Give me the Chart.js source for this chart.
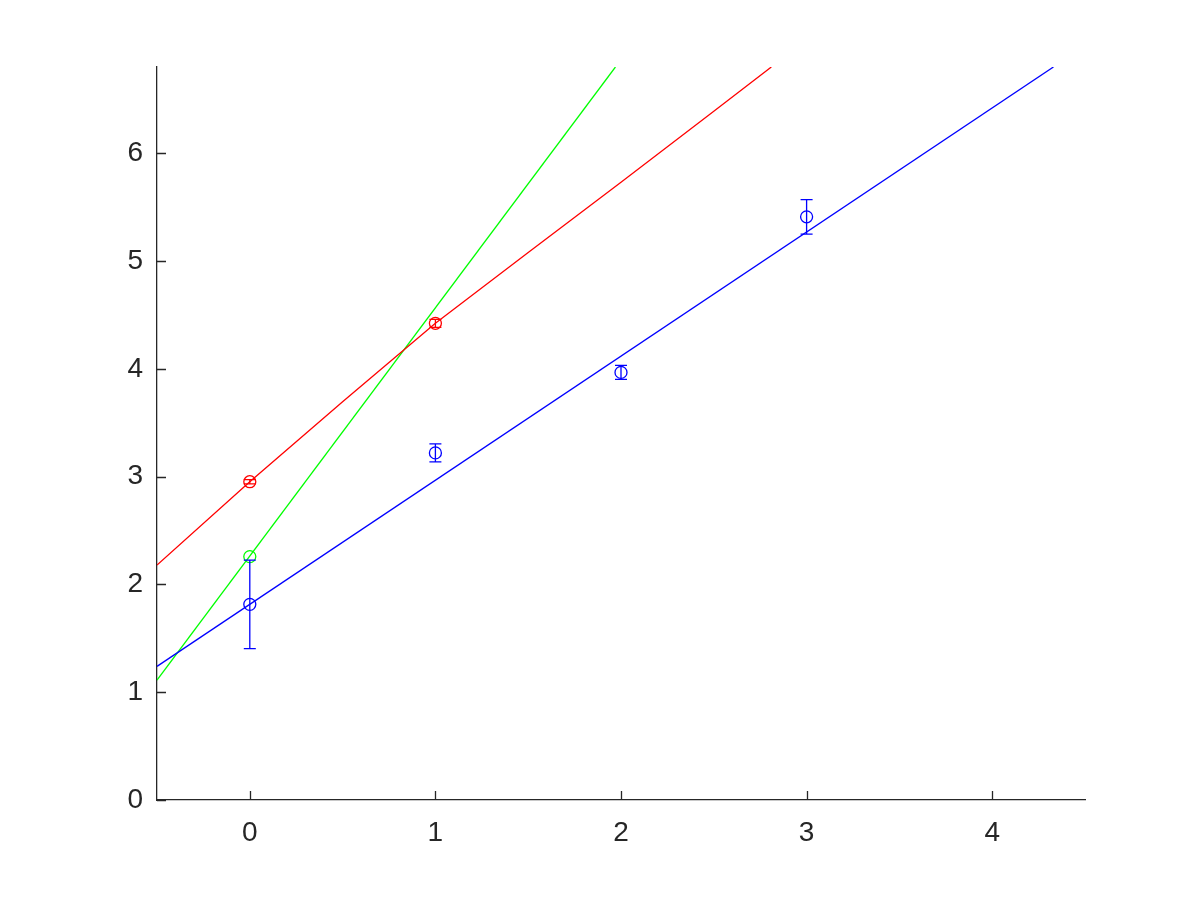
<!DOCTYPE html>
<html>
<head>
<meta charset="utf-8">
<script src="https://cdn.jsdelivr.net/npm/chart.js@4.4.1/dist/chart.umd.min.js"></script>
<style>
  html, body { margin: 0; padding: 0; background: #ffffff; }
  #wrap { width: 1200px; height: 900px; }
</style>
</head>
<body>
<div id="wrap"><canvas id="c" width="1200" height="900"></canvas></div>
<script>
// ---- data ----
const xTicks = [0, 1, 2, 3, 4];
const yTicks = [0, 1, 2, 3, 4, 5, 6];
const xRange = [-0.5, 4.5];
const yRange = [0, 6.8];

const blueX = [0, 1, 2, 3];
const blueY = [1.815, 3.22, 3.967, 5.41];
const blueErr = [0.41, 0.083, 0.065, 0.16];

const redX = [0, 1];
const redY = [2.953, 4.422];
const redErr = [0.02, 0.037];

const greenX = [0];
const greenY = [2.258];
const greenErr = [0];

const blueLineX = [-0.5, 4.33];
const blueLineY = [1.24, 6.8];
const greenLineX = [-0.5, 1.97];
const greenLineY = [1.112, 6.8];
const redLineX = [-0.5, 0, 0.5, 1, 1.5, 2, 2.5, 2.81];
const redLineY = [2.18, 2.953, 3.695, 4.422, 5.08, 5.73, 6.39, 6.8];

const BLUE = '#0000ff', RED = '#ff0000', GREEN = '#00ff00', AXIS = '#262626';

const zip = (xs, ys) => xs.map((x, i) => ({ x: x, y: ys[i] }));

function lineDs(xs, ys, color) {
  return { data: zip(xs, ys), showLine: true, borderColor: color, borderWidth: 1.3,
           pointRadius: 0, pointHoverRadius: 0, tension: 0, fill: false };
}
function pointDs(xs, ys, errs, color) {
  return { data: zip(xs, ys), errs: errs, showLine: false, borderColor: color,
           pointBorderColor: color, pointBackgroundColor: 'rgba(0,0,0,0)',
           pointRadius: 6, pointBorderWidth: 1.3, pointHoverRadius: 6 };
}

const errorBarPlugin = {
  id: 'errbars',
  afterDatasetsDraw(chart) {
    const ctx = chart.ctx, xs = chart.scales.x, ys = chart.scales.y;
    ctx.save();
    chart.data.datasets.forEach(ds => {
      if (!ds.errs) return;
      ctx.strokeStyle = ds.borderColor;
      ctx.lineWidth = 1.3;
      ds.data.forEach((p, i) => {
        const e = ds.errs[i];
        if (!e) return;
        const px = xs.getPixelForValue(p.x);
        const top = ys.getPixelForValue(p.y + e);
        const bot = ys.getPixelForValue(p.y - e);
        const cap = 6;
        ctx.beginPath();
        ctx.moveTo(px, top); ctx.lineTo(px, bot);
        ctx.moveTo(px - cap, top); ctx.lineTo(px + cap, top);
        ctx.moveTo(px - cap, bot); ctx.lineTo(px + cap, bot);
        ctx.stroke();
      });
    });
    ctx.restore();
  }
};

const inwardTicksPlugin = {
  id: 'inticks',
  afterDraw(chart) {
    const ctx = chart.ctx, xs = chart.scales.x, ys = chart.scales.y, a = chart.chartArea;
    const len = 9;
    ctx.save();
    ctx.strokeStyle = AXIS;
    ctx.lineWidth = 1.3;
    ctx.beginPath();
    xTicks.forEach(v => {
      const px = Math.round(xs.getPixelForValue(v)) + 0.5;
      ctx.moveTo(px, a.bottom); ctx.lineTo(px, a.bottom - len);
    });
    yTicks.forEach(v => {
      const py = Math.round(ys.getPixelForValue(v)) + 0.5;
      ctx.moveTo(a.left, py); ctx.lineTo(a.left + len, py);
    });
    ctx.stroke();
    ctx.restore();
  }
};

new Chart(document.getElementById('c'), {
  type: 'scatter',
  data: {
    datasets: [
      lineDs(blueLineX, blueLineY, BLUE),
      lineDs(redLineX, redLineY, RED),
      lineDs(greenLineX, greenLineY, GREEN),
      pointDs(blueX, blueY, blueErr, BLUE),
      pointDs(redX, redY, redErr, RED),
      pointDs(greenX, greenY, greenErr, GREEN)
    ]
  },
  options: {
    responsive: false,
    animation: false,
    events: [],
    layout: { padding: { left: 0, top: 67, right: 115, bottom: 0 } },
    plugins: { legend: { display: false }, tooltip: { enabled: false } },
    scales: {
      x: {
        type: 'linear', min: xRange[0], max: xRange[1],
        afterBuildTicks: s => { s.ticks = xTicks.map(v => ({ value: v })); },
        afterFit: s => { s.height = 100; },
        grid: { display: false, drawTicks: false },
        border: { display: true, color: AXIS, width: 1.3 },
        ticks: { color: AXIS, padding: 16, maxRotation: 0,
                 font: { family: 'Liberation Sans, Arial, Helvetica, sans-serif', size: 28 } }
      },
      y: {
        type: 'linear', min: yRange[0], max: yRange[1],
        afterBuildTicks: s => { s.ticks = yTicks.map(v => ({ value: v })); },
        afterFit: s => { s.width = 157; },
        grid: { display: false, drawTicks: false },
        border: { display: true, color: AXIS, width: 1.3 },
        ticks: { color: AXIS, padding: 14,
                 font: { family: 'Liberation Sans, Arial, Helvetica, sans-serif', size: 28 } }
      }
    }
  },
  plugins: [errorBarPlugin, inwardTicksPlugin]
});
</script>
</body>
</html>
